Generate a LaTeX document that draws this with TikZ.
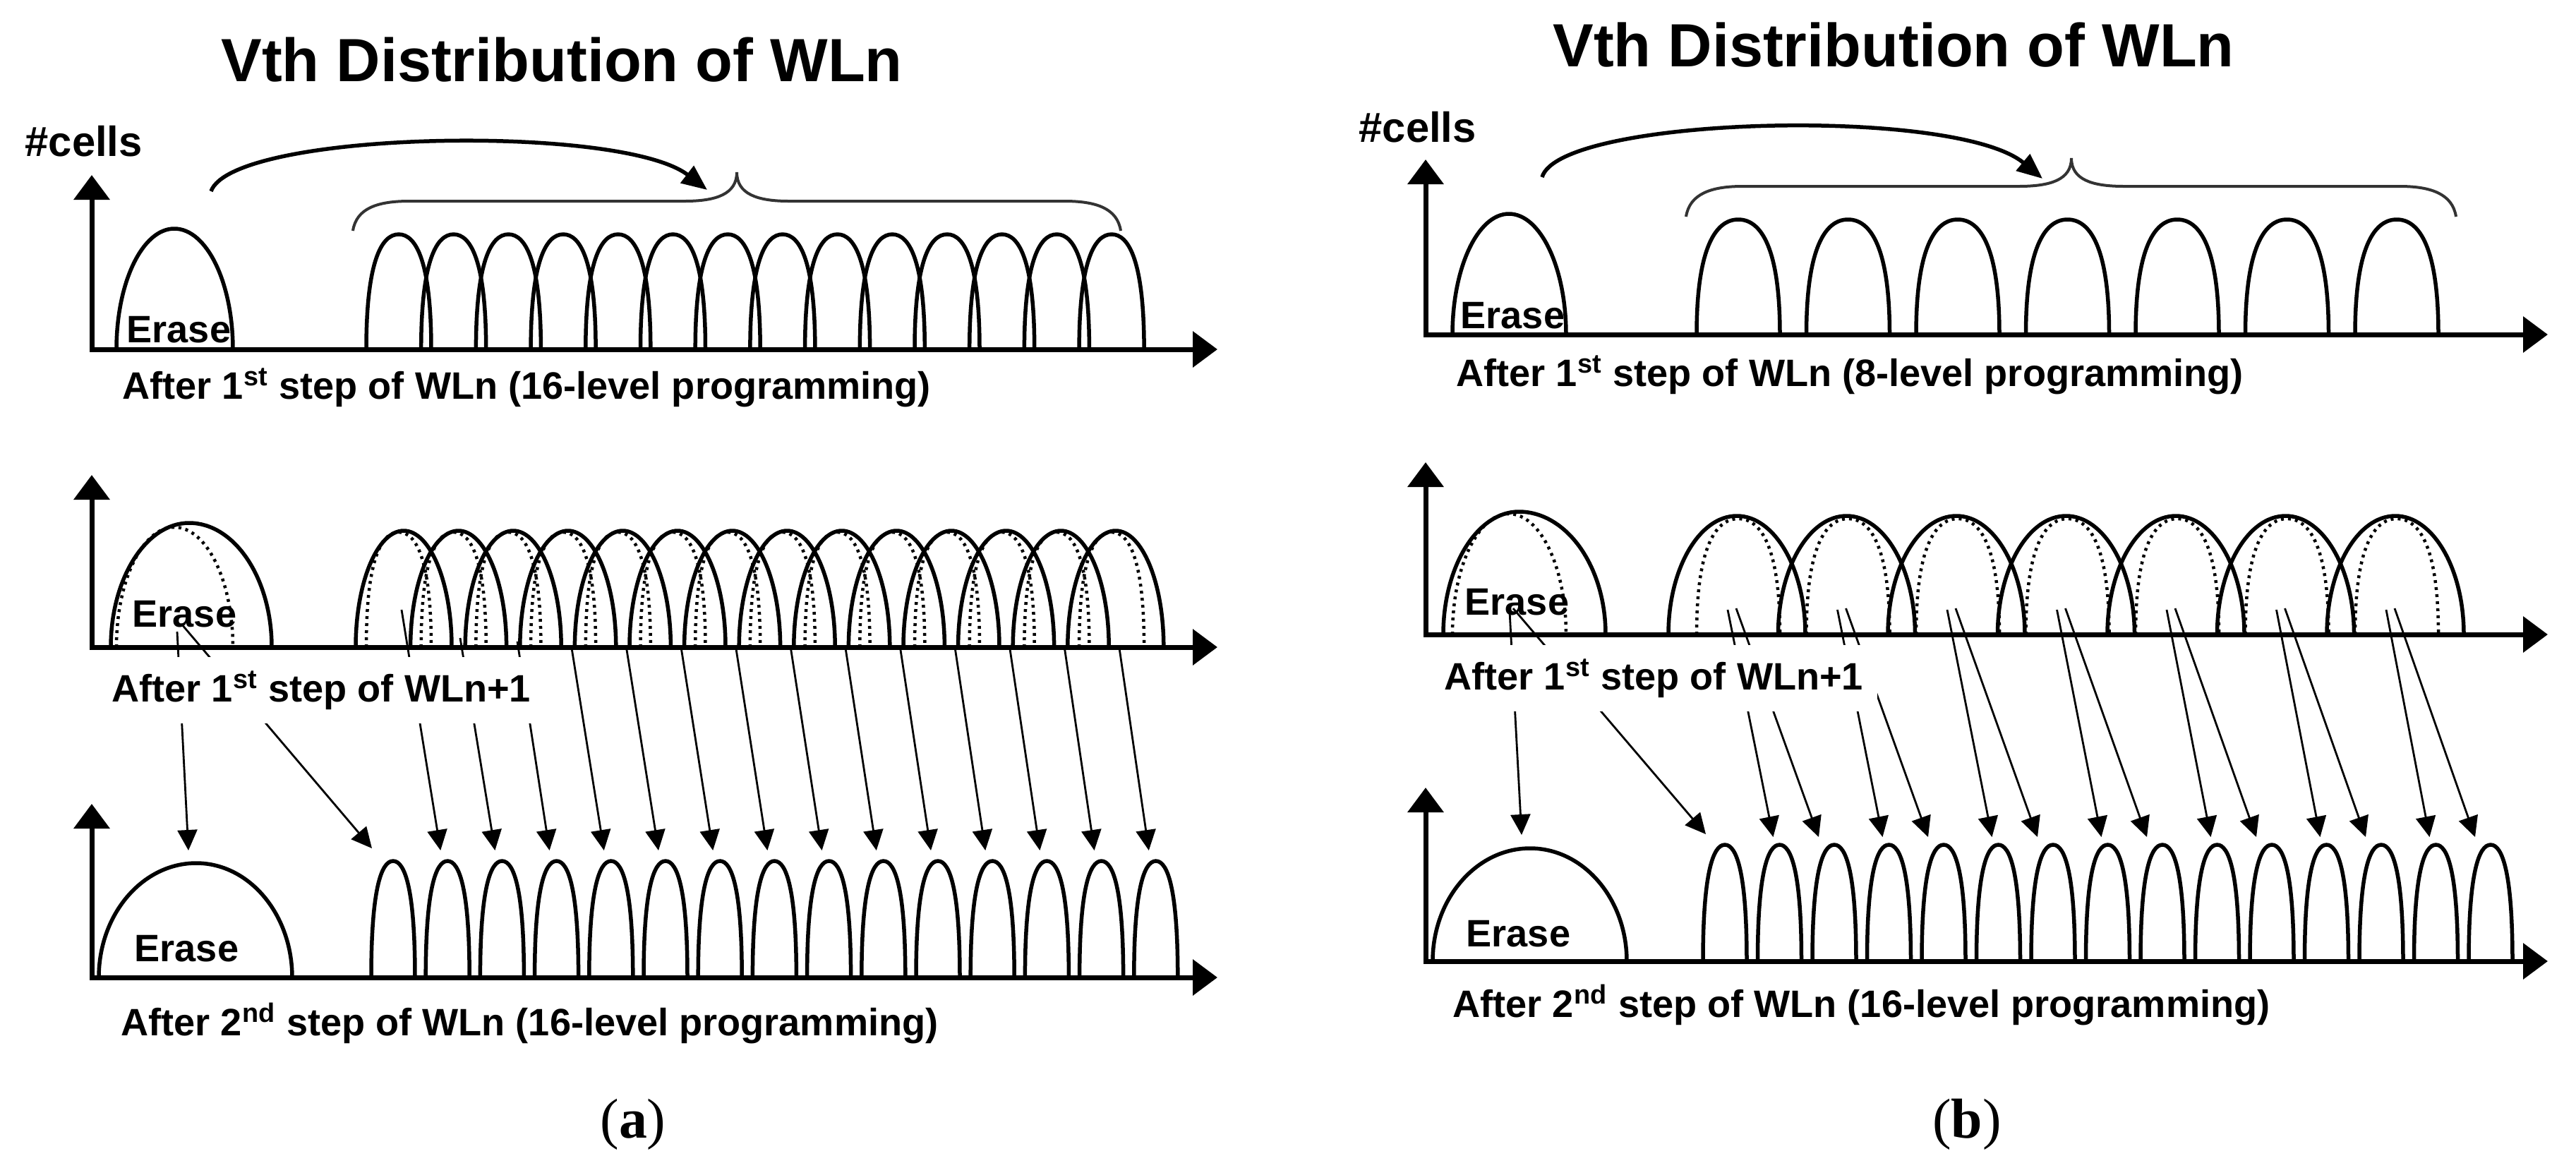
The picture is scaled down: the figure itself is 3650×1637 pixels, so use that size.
\documentclass[tikz,border=0pt]{standalone}
\usepackage{fontspec}
\setmainfont{Liberation Sans}
\newfontfamily\capfont{Liberation Serif}
\usetikzlibrary{arrows.meta}

% #1 style, #2 left x, #3 peak x, #4 right x, #5 axis y, #6 peak y, #7 vertical k, #8 horizontal k
\newcommand\hbump[8]{%
  \pgfmathsetmacro\hbL{#2}\pgfmathsetmacro\hbC{#3}\pgfmathsetmacro\hbR{#4}%
  \pgfmathsetmacro\hbA{#5}\pgfmathsetmacro\hbP{#6}%
  \pgfmathsetmacro\hbYk{\hbA-#7*(\hbA-\hbP)}%
  \pgfmathsetmacro\hbXl{\hbC-#8*(\hbC-\hbL)}%
  \pgfmathsetmacro\hbXr{\hbC+#8*(\hbR-\hbC)}%
  \draw[#1] (\hbL,\hbA) .. controls (\hbL,\hbYk) and (\hbXl,\hbP) .. (\hbC,\hbP)
     .. controls (\hbXr,\hbP) and (\hbR,\hbYk) .. (\hbR,\hbA);}

\begin{document}
\begin{tikzpicture}[x=0.1mm,y=-0.1mm,
  axpair/.style={line width=0.7mm, line join=miter,
     {Triangle[length=3.5mm,width=5mm]}-{Triangle[length=3.5mm,width=5mm]}},
  bumpline/.style={line width=0.55mm},
  dotbump/.style={line width=0.45mm, dash pattern=on 0.4mm off 0.6mm},
  conn/.style={line width=0.28mm, -{Triangle[length=2.9mm,width=2.8mm]}},
  bracepath/.style={line width=0.4mm, black!80},
  curv/.style={line width=0.55mm, -{Triangle[length=3.6mm,width=3mm]}},
  lbl/.style={font=\fontsize{15.4pt}{18pt}\selectfont\bfseries, inner sep=0pt, anchor=base west},
  wlbl/.style={lbl, fill=white, inner sep=2mm},
  ttl/.style={font=\fontsize{24.6pt}{29pt}\selectfont\bfseries, inner sep=0pt, anchor=base},
  cellslbl/.style={font=\fontsize{17pt}{20pt}\selectfont\bfseries, inner sep=0pt, anchor=base west},
  capt/.style={font=\fontsize{22.7pt}{26pt}\selectfont\capfont, inner sep=0pt, anchor=base}
]
\fill[white] (0,0) rectangle (3650,1637);
\useasboundingbox (0,0) rectangle (3650,1637);

% ================= (a) =================
\node[ttl] (ta) at (796,115) {Vth Distribution of WLn};
\node[cellslbl] (ca) at (35,221) {\#cells};

% top row
\coordinate (a1y) at (130,248); \coordinate (a1o) at (130,495); \coordinate (a1x) at (1725,495);
\draw[axpair] (a1y) -- (a1o) -- (a1x);
\hbump{bumpline}{165}{247}{330}{495}{324}{0.5523}{0.5523}
\foreach \k in {0,...,13} {\pgfmathsetmacro\xc{565+77.7*\k}
  \hbump{bumpline}{\xc-46}{\xc}{\xc+46}{495}{332}{0.75}{0.55}}
\node[lbl] (ea1) at (179,485) {Erase};
\draw[bracepath] (500,327) .. controls (505,295) and (535,285) .. (580,285) -- (970,285)
  .. controls (1015,285) and (1044,275) .. (1044,244)
  .. controls (1044,275) and (1073,285) .. (1118,285) -- (1508,285)
  .. controls (1553,285) and (1583,295) .. (1588,327);
\coordinate (acs) at (299,271); \coordinate (ace) at (1002,269);
\draw[curv] (acs) .. controls (330,185) and (880,175) .. (ace);
\node[lbl] (la1) at (173,565) {After 1\textsuperscript{st} step of WLn (16-level programming)};

% middle row
\coordinate (a2y) at (130,673); \coordinate (a2o) at (130,917); \coordinate (a2x) at (1725,917);
\draw[axpair] (a2y) -- (a2o) -- (a2x);
\hbump{dotbump}{165}{247}{330}{917}{747}{0.5523}{0.5523}
\foreach \k in {0,...,13} {\pgfmathsetmacro\xc{565+77.7*\k}
  \hbump{dotbump}{\xc-46}{\xc}{\xc+46}{917}{754}{0.75}{0.55}}
\hbump{bumpline}{157}{268}{385}{917}{741}{0.5523}{0.5523}
\foreach \k in {0,...,13} {\pgfmathsetmacro\xc{572+77.6*\k}
  \hbump{bumpline}{\xc-68}{\xc}{\xc+68}{917}{752}{0.5523}{0.5523}}
\node[lbl] (ea2) at (187,888) {Erase};

% bottom row
\coordinate (a3y) at (130,1139); \coordinate (a3o) at (130,1385); \coordinate (a3x) at (1725,1385);
\draw[axpair] (a3y) -- (a3o) -- (a3x);
\hbump{bumpline}{140}{278}{414}{1385}{1223}{0.5523}{0.5523}
\foreach \k in {0,...,14} {\pgfmathsetmacro\xc{557+77.2*\k}
  \hbump{bumpline}{\xc-31}{\xc}{\xc+31}{1385}{1220}{0.75}{0.55}}
\node[lbl] (ea3) at (190,1362) {Erase};

% arrows (a)
\coordinate (aEs) at (251,895); \coordinate (aEt) at (267,1205);
\draw[conn] (aEs) -- (aEt);
\coordinate (aDs) at (257,884); \coordinate (aDt) at (527,1202);
\draw[conn] (aDs) -- (aDt);
\coordinate (aS0) at (569,864); \coordinate (aS1) at (652,904); \coordinate (aS2) at (733,909);
\foreach \k in {3,...,13} {\pgfmathsetmacro\xs{572+77.6*\k+5}
  \coordinate (aS\k) at (\xs,917);}
\foreach \k in {0,...,13} {\pgfmathsetmacro\xt{557+77.2*(\k+1)-10}
  \coordinate (aT\k) at (\xt,1205);
  \draw[conn] (aS\k) -- (aT\k);}
\node[wlbl] (la2) at (138,994) {After 1\textsuperscript{st} step of WLn+1};
\node[lbl] (la3) at (171,1467) {After 2\textsuperscript{nd} step of WLn (16-level programming)};
\node[capt] (capa) at (897,1612) {(\textbf{a})};

% ================= (b) =================
\node[ttl] (tb) at (2683,94) {Vth Distribution of WLn};
\node[cellslbl] (cb) at (1925,201) {\#cells};

% top row
\coordinate (b1y) at (2020,226); \coordinate (b1o) at (2020,474); \coordinate (b1x) at (3610,474);
\draw[axpair] (b1y) -- (b1o) -- (b1x);
\hbump{bumpline}{2058}{2138}{2219}{474}{303}{0.5523}{0.5523}
\foreach \k in {0,...,6} {\pgfmathsetmacro\xc{2463+155.5*\k}
  \hbump{bumpline}{\xc-59}{\xc}{\xc+59}{474}{311}{0.75}{0.55}}
\node[lbl] (eb1) at (2069,465) {Erase};
\draw[bracepath] (2389,307) .. controls (2394,275) and (2424,264) .. (2469,264) -- (2860,264)
  .. controls (2905,264) and (2935,255) .. (2935,224)
  .. controls (2935,255) and (2965,264) .. (3010,264) -- (3400,264)
  .. controls (3445,264) and (3475,275) .. (3480,307);
\coordinate (bcs) at (2185,251); \coordinate (bce) at (2894,253);
\draw[curv] (bcs) .. controls (2210,165) and (2770,150) .. (bce);
\node[lbl] (lb1) at (2063,547) {After 1\textsuperscript{st} step of WLn (8-level programming)};

% middle row
\coordinate (b2y) at (2020,655); \coordinate (b2o) at (2020,899); \coordinate (b2x) at (3610,899);
\draw[axpair] (b2y) -- (b2o) -- (b2x);
\hbump{dotbump}{2058}{2138}{2219}{899}{728}{0.5523}{0.5523}
\foreach \k in {0,...,6} {\pgfmathsetmacro\xc{2463+155.5*\k}
  \hbump{dotbump}{\xc-59}{\xc}{\xc+59}{899}{735}{0.75}{0.55}}
\hbump{bumpline}{2045}{2152}{2275}{899}{725}{0.5523}{0.5523}
\foreach \k in {0,...,6} {\pgfmathsetmacro\xc{2461+155.5*\k}
  \hbump{bumpline}{\xc-97}{\xc}{\xc+97}{899}{731}{0.5523}{0.5523}}
\node[lbl] (eb2) at (2075,871) {Erase};

% bottom row
\coordinate (b3y) at (2020,1116); \coordinate (b3o) at (2020,1362); \coordinate (b3x) at (3610,1362);
\draw[axpair] (b3y) -- (b3o) -- (b3x);
\hbump{bumpline}{2030}{2168}{2305}{1362}{1202}{0.5523}{0.5523}
\foreach \k in {0,...,14} {\pgfmathsetmacro\xc{2444+77.5*\k}
  \hbump{bumpline}{\xc-31}{\xc}{\xc+31}{1362}{1197}{0.75}{0.55}}
\node[lbl] (eb3) at (2077,1341) {Erase};

% arrows (b)
\coordinate (bEs) at (2139,866); \coordinate (bEt) at (2156,1183);
\draw[conn] (bEs) -- (bEt);
\coordinate (bDs) at (2144,862); \coordinate (bDt) at (2417,1182);
\draw[conn] (bDs) -- (bDt);
\foreach \k in {0,...,6} {
  \pgfmathsetmacro\xa{2448+155.5*\k}
  \pgfmathsetmacro\xb{2460+155.5*\k}
  \pgfmathsetmacro\ta{2444+77.5*(2*\k+1)-9}
  \pgfmathsetmacro\tb{2444+77.5*(2*\k+2)-22}
  \coordinate (bA\k) at (\xa,864); \coordinate (bAt\k) at (\ta,1186);
  \coordinate (bB\k) at (\xb,862); \coordinate (bBt\k) at (\tb,1186);
  \draw[conn] (bA\k) -- (bAt\k);
  \draw[conn] (bB\k) -- (bBt\k);}
\node[wlbl] (lb2) at (2026,977) {After 1\textsuperscript{st} step of WLn+1};
\node[lbl] (lb3) at (2058,1441) {After 2\textsuperscript{nd} step of WLn (16-level programming)};
\node[capt] (capb) at (2787,1612) {(\textbf{b})};
\end{tikzpicture}
\end{document}
